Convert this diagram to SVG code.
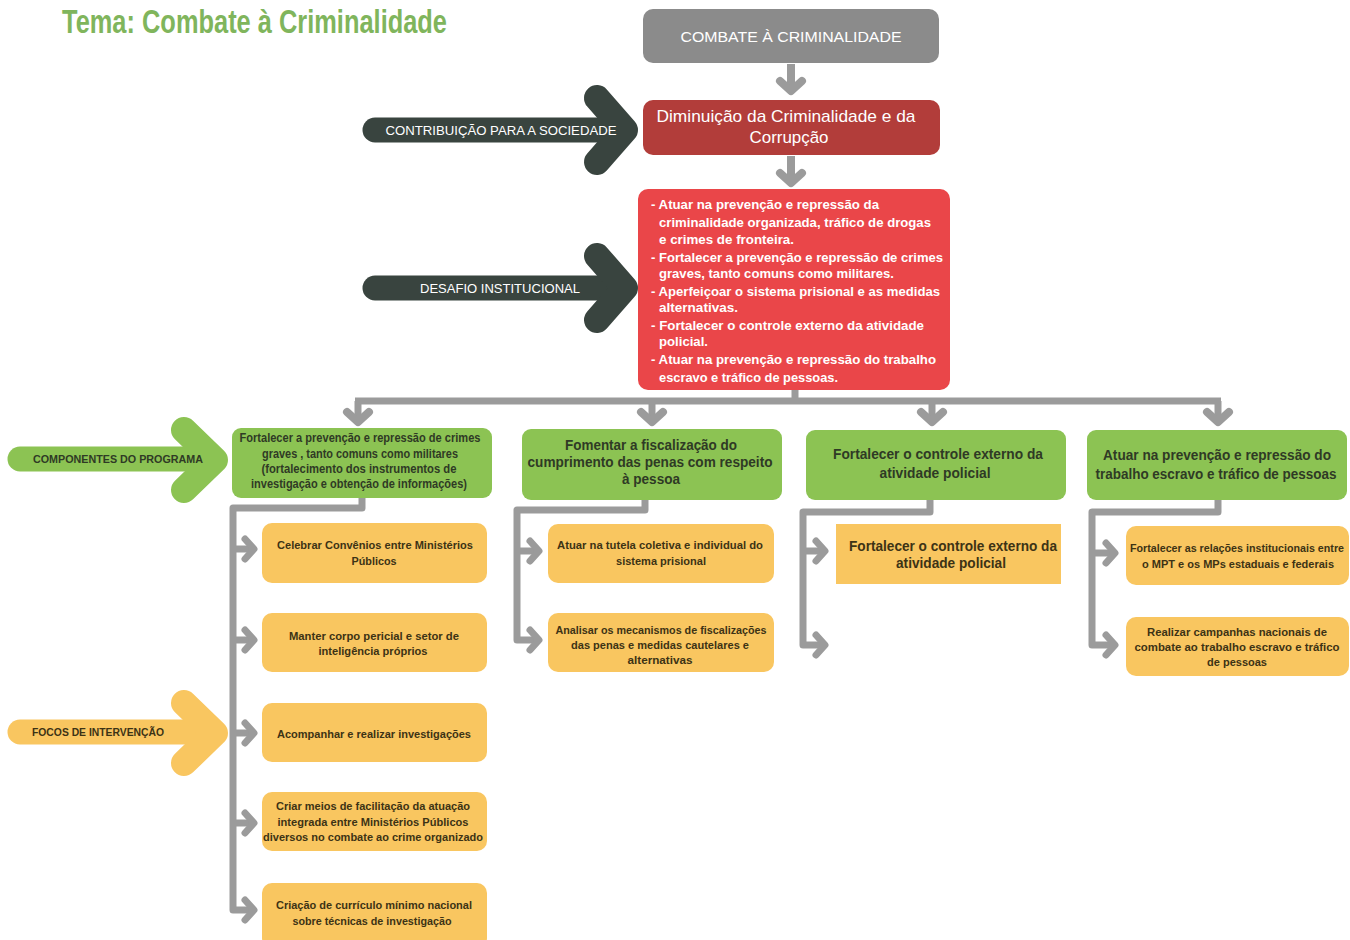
<svg xmlns="http://www.w3.org/2000/svg" width="1350" height="940" viewBox="0 0 1350 940">
<style>
text{font-family:"Liberation Sans",Arial,sans-serif;font-weight:bold;}
.title{fill:#80b55c;font-size:33px;}
.w{fill:#ffffff;}
.wn{fill:#ffffff;font-weight:normal;}
.gt{fill:#2f3a25;font-size:12px;text-anchor:middle;}
.gt2{fill:#2f3a25;font-size:14px;text-anchor:middle;}
.yt{fill:#3d3315;font-size:11.5px;text-anchor:middle;}
.rt{fill:#ffffff;font-size:13.5px;}
.conn{fill:none;stroke:#9b9b9b;stroke-width:7;stroke-linecap:butt;stroke-linejoin:round;}
.green{fill:#8cc353;}
.yel{fill:#f9c660;}
.bigbar{fill:none;stroke-linecap:round;stroke-linejoin:round;}
</style>
<defs>
<marker id="chev" markerUnits="userSpaceOnUse" markerWidth="30" markerHeight="30" viewBox="-15 -15 30 30" refX="0" refY="0" orient="auto" overflow="visible">
<path d="M-9,-10 L0,0 L-9,10" fill="none" stroke="#9b9b9b" stroke-width="7" stroke-linecap="round" stroke-linejoin="round"/>
</marker>
<marker id="chevL" markerUnits="userSpaceOnUse" markerWidth="34" markerHeight="34" viewBox="-17 -17 34 34" refX="0" refY="0" orient="auto" overflow="visible">
<path d="M-10,-11 L0,0 L-10,11" fill="none" stroke="#9b9b9b" stroke-width="8" stroke-linecap="round" stroke-linejoin="round"/>
</marker>
</defs>

<text class="title" x="62" y="33" textLength="385" lengthAdjust="spacingAndGlyphs">Tema: Combate à Criminalidade</text>

<g id="connectors">
<path class="conn" style="stroke-width:8" d="M791 64 V91" marker-end="url(#chevL)"/>
<path class="conn" style="stroke-width:8" d="M791 156 V183" marker-end="url(#chevL)"/>
<path class="conn" d="M795 390 V401"/>
<path class="conn" d="M355 401 H1221"/>
<path class="conn" d="M358 401 V422" marker-end="url(#chevL)"/>
<path class="conn" d="M652 401 V422" marker-end="url(#chevL)"/>
<path class="conn" d="M932 401 V422" marker-end="url(#chevL)"/>
<path class="conn" d="M1218 401 V422" marker-end="url(#chevL)"/>

<path class="conn" d="M362 498 V508 H233 V910 H254" marker-end="url(#chev)"/>
<path class="conn" d="M233 549 H254" marker-end="url(#chev)"/>
<path class="conn" d="M233 640 H254" marker-end="url(#chev)"/>
<path class="conn" d="M233 733 H254" marker-end="url(#chev)"/>
<path class="conn" d="M233 823 H254" marker-end="url(#chev)"/>

<path class="conn" d="M645 500 V510 H517 V640 H539" marker-end="url(#chev)"/>
<path class="conn" d="M517 551 H539" marker-end="url(#chev)"/>

<path class="conn" d="M930 500 V512 H803 V645 H825" marker-end="url(#chev)"/>
<path class="conn" d="M803 551 H825" marker-end="url(#chev)"/>

<path class="conn" d="M1218 500 V512 H1092 V645 H1115" marker-end="url(#chev)"/>
<path class="conn" d="M1092 553 H1115" marker-end="url(#chev)"/>
</g>

<g id="arrow-contribuicao">
<path class="bigbar" stroke="#39443f" stroke-width="25" d="M375 130 H615"/>
<path class="bigbar" stroke="#39443f" stroke-width="26" d="M597 98 L625 130 L597 162"/>
<text class="wn" x="501" y="135" font-size="13" text-anchor="middle" textLength="231" lengthAdjust="spacingAndGlyphs">CONTRIBUIÇÃO PARA A SOCIEDADE</text>
</g>
<g id="arrow-desafio">
<path class="bigbar" stroke="#39443f" stroke-width="25" d="M375 288 H615"/>
<path class="bigbar" stroke="#39443f" stroke-width="26" d="M597 256 L625 288 L597 320"/>
<text class="wn" x="500" y="293" font-size="13" text-anchor="middle" textLength="160" lengthAdjust="spacingAndGlyphs">DESAFIO INSTITUCIONAL</text>
</g>
<g id="arrow-componentes">
<path class="bigbar" stroke="#8cc353" stroke-width="25" d="M20 459 H200"/>
<path class="bigbar" stroke="#8cc353" stroke-width="26" d="M184 430 L215 460 L184 490"/>
<text x="118" y="463" font-size="11" fill="#2f3a25" text-anchor="middle" textLength="170" lengthAdjust="spacingAndGlyphs">COMPONENTES DO PROGRAMA</text>
</g>
<g id="arrow-focos">
<path class="bigbar" stroke="#f9c660" stroke-width="25" d="M20 732 H200"/>
<path class="bigbar" stroke="#f9c660" stroke-width="26" d="M184 703 L215 733 L184 763"/>
<text x="98" y="736" font-size="11" fill="#3d3315" text-anchor="middle" textLength="132" lengthAdjust="spacingAndGlyphs">FOCOS DE INTERVENÇÃO</text>
</g>

<g id="node-combate">
<rect x="643" y="9" width="296" height="54" rx="10" fill="#8b8b8b"/>
<text class="wn" x="791" y="42" font-size="15" text-anchor="middle" textLength="221" lengthAdjust="spacingAndGlyphs">COMBATE À CRIMINALIDADE</text>
</g>
<g id="node-diminuicao">
<rect x="643" y="100" width="297" height="55" rx="10" fill="#b23d3a"/>
<text class="wn" x="786" y="122" font-size="17" text-anchor="middle" textLength="259" lengthAdjust="spacingAndGlyphs">Diminuição da Criminalidade e da</text>
<text class="wn" x="789" y="143" font-size="17" text-anchor="middle" textLength="79" lengthAdjust="spacingAndGlyphs">Corrupção</text>
</g>
<g id="node-desafios">
<rect x="638" y="189" width="312" height="201" rx="10" fill="#ea4649"/>
<text class="rt" x="651" y="209" textLength="228" lengthAdjust="spacingAndGlyphs">- Atuar na prevenção e repressão da</text>
<text class="rt" x="659" y="227" textLength="272" lengthAdjust="spacingAndGlyphs">criminalidade organizada, tráfico de drogas</text>
<text class="rt" x="659" y="244" textLength="135" lengthAdjust="spacingAndGlyphs">e crimes de fronteira.</text>
<text class="rt" x="651" y="262" textLength="292" lengthAdjust="spacingAndGlyphs">- Fortalecer a prevenção e repressão de crimes</text>
<text class="rt" x="659" y="278" textLength="235" lengthAdjust="spacingAndGlyphs">graves, tanto comuns como militares.</text>
<text class="rt" x="651" y="296" textLength="289" lengthAdjust="spacingAndGlyphs">- Aperfeiçoar o sistema prisional e as medidas</text>
<text class="rt" x="659" y="312" textLength="79" lengthAdjust="spacingAndGlyphs">alternativas.</text>
<text class="rt" x="651" y="330" textLength="273" lengthAdjust="spacingAndGlyphs">- Fortalecer o controle externo da atividade</text>
<text class="rt" x="659" y="346" textLength="49" lengthAdjust="spacingAndGlyphs">policial.</text>
<text class="rt" x="651" y="364" textLength="285" lengthAdjust="spacingAndGlyphs">- Atuar na prevenção e repressão do trabalho</text>
<text class="rt" x="659" y="382" textLength="179" lengthAdjust="spacingAndGlyphs">escravo e tráfico de pessoas.</text>
</g>

<g id="node-g1">
<rect class="green" x="232" y="428" width="260" height="70" rx="9"/>
<text class="gt" x="360" y="442" textLength="241" lengthAdjust="spacingAndGlyphs">Fortalecer a prevenção e repressão de crimes</text>
<text class="gt" x="360" y="458" textLength="196" lengthAdjust="spacingAndGlyphs">graves , tanto comuns como militares</text>
<text class="gt" x="359" y="473" textLength="195" lengthAdjust="spacingAndGlyphs">(fortalecimento dos instrumentos de</text>
<text class="gt" x="359" y="488" textLength="216" lengthAdjust="spacingAndGlyphs">investigação e obtenção de informações)</text>
</g>
<g id="node-g2">
<rect class="green" x="522" y="429" width="260" height="71" rx="9"/>
<text class="gt2" x="651" y="450" textLength="172" lengthAdjust="spacingAndGlyphs">Fomentar a fiscalização do</text>
<text class="gt2" x="650" y="467" textLength="245" lengthAdjust="spacingAndGlyphs">cumprimento das penas com respeito</text>
<text class="gt2" x="651" y="484" textLength="58" lengthAdjust="spacingAndGlyphs">à pessoa</text>
</g>
<g id="node-g3">
<rect class="green" x="806" y="430" width="260" height="70" rx="9"/>
<text class="gt2" x="938" y="459" textLength="210" lengthAdjust="spacingAndGlyphs">Fortalecer o controle externo da</text>
<text class="gt2" x="935" y="478" textLength="111" lengthAdjust="spacingAndGlyphs">atividade policial</text>
</g>
<g id="node-g4">
<rect class="green" x="1087" y="430" width="260" height="70" rx="9"/>
<text class="gt2" x="1217" y="460" textLength="228" lengthAdjust="spacingAndGlyphs">Atuar na prevenção e repressão do</text>
<text class="gt2" x="1216" y="479" textLength="241" lengthAdjust="spacingAndGlyphs">trabalho escravo e tráfico de pessoas</text>
</g>

<g id="node-y1">
<rect class="yel" x="262" y="523" width="225" height="60" rx="10"/>
<text class="yt" x="375" y="549" textLength="196" lengthAdjust="spacingAndGlyphs">Celebrar Convênios entre Ministérios</text>
<text class="yt" x="374" y="565" textLength="45" lengthAdjust="spacingAndGlyphs">Públicos</text>
</g>
<g id="node-y2">
<rect class="yel" x="262" y="613" width="225" height="59" rx="10"/>
<text class="yt" x="374" y="640" textLength="170" lengthAdjust="spacingAndGlyphs">Manter corpo pericial e setor de</text>
<text class="yt" x="373" y="655" textLength="109" lengthAdjust="spacingAndGlyphs">inteligência próprios</text>
</g>
<g id="node-y3">
<rect class="yel" x="262" y="703" width="225" height="59" rx="10"/>
<text class="yt" x="374" y="738" textLength="194" lengthAdjust="spacingAndGlyphs">Acompanhar e realizar investigações</text>
</g>
<g id="node-y4">
<rect class="yel" x="262" y="792" width="225" height="59" rx="10"/>
<text class="yt" x="373" y="810" textLength="194" lengthAdjust="spacingAndGlyphs">Criar meios de facilitação da atuação</text>
<text class="yt" x="373" y="826" textLength="191" lengthAdjust="spacingAndGlyphs">integrada entre Ministérios Públicos</text>
<text class="yt" x="373" y="841" textLength="220" lengthAdjust="spacingAndGlyphs">diversos no combate ao crime organizado</text>
</g>
<g id="node-y5">
<rect class="yel" x="262" y="883" width="225" height="65" rx="10"/>
<text class="yt" x="374" y="909" textLength="196" lengthAdjust="spacingAndGlyphs">Criação de currículo mínimo nacional</text>
<text class="yt" x="372" y="925" textLength="159" lengthAdjust="spacingAndGlyphs">sobre técnicas de investigação</text>
</g>
<g id="node-y6">
<rect class="yel" x="548" y="524" width="226" height="59" rx="10"/>
<text class="yt" x="660" y="549" textLength="206" lengthAdjust="spacingAndGlyphs">Atuar na tutela coletiva e individual do</text>
<text class="yt" x="661" y="565" textLength="90" lengthAdjust="spacingAndGlyphs">sistema prisional</text>
</g>
<g id="node-y7">
<rect class="yel" x="548" y="613" width="226" height="59" rx="10"/>
<text class="yt" x="661" y="634" textLength="211" lengthAdjust="spacingAndGlyphs">Analisar os mecanismos de fiscalizações</text>
<text class="yt" x="660" y="649" textLength="178" lengthAdjust="spacingAndGlyphs">das penas e medidas cautelares e</text>
<text class="yt" x="660" y="664" textLength="65" lengthAdjust="spacingAndGlyphs">alternativas</text>
</g>
<g id="node-y8">
<rect class="yel" x="836" y="524" width="225" height="60"/>
<text class="gt2" style="fill:#3d3315" x="953" y="551" textLength="208" lengthAdjust="spacingAndGlyphs">Fortalecer o controle externo da</text>
<text class="gt2" style="fill:#3d3315" x="951" y="568" textLength="110" lengthAdjust="spacingAndGlyphs">atividade policial</text>
</g>
<g id="node-y9">
<rect class="yel" x="1126" y="526" width="223" height="59" rx="10"/>
<text class="yt" style="text-anchor:end" x="1344" y="552" textLength="214" lengthAdjust="spacingAndGlyphs">Fortalecer as relações institucionais entre</text>
<text class="yt" x="1238" y="568" textLength="192" lengthAdjust="spacingAndGlyphs">o MPT e os MPs estaduais e federais</text>
</g>
<g id="node-y10">
<rect class="yel" x="1126" y="617" width="223" height="59" rx="10"/>
<text class="yt" x="1237" y="636" textLength="180" lengthAdjust="spacingAndGlyphs">Realizar campanhas nacionais de</text>
<text class="yt" x="1237" y="651" textLength="205" lengthAdjust="spacingAndGlyphs">combate ao trabalho escravo e tráfico</text>
<text class="yt" x="1237" y="666" textLength="60" lengthAdjust="spacingAndGlyphs">de pessoas</text>
</g>
</svg>
